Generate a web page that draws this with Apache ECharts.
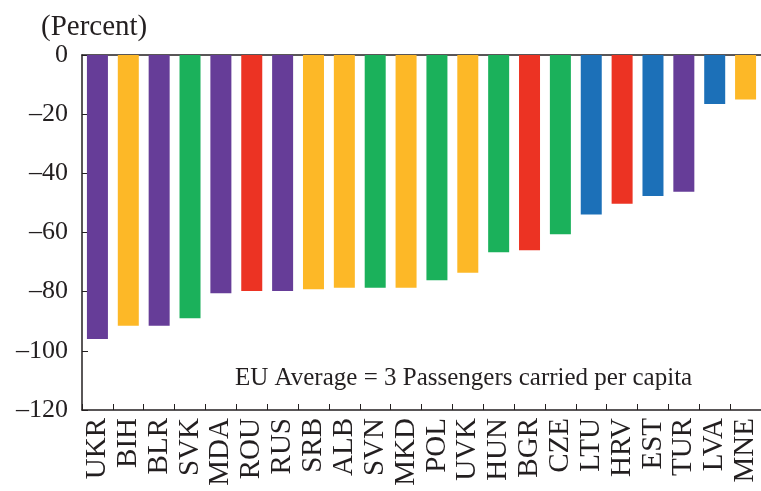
<!DOCTYPE html>
<html>
<head>
<meta charset="utf-8">
<script src="https://cdn.jsdelivr.net/npm/echarts@6/dist/echarts.min.js"></script>
<style>
html,body{margin:0;padding:0;background:#fff;}
#chart{width:761px;height:491px;}
</style>
</head>
<body>
<div id="chart"></div>
<script>
const categories = ['UKR','BIH','BLR','SVK','MDA','ROU','RUS','SRB','ALB','SVN','MKD','POL','UVK','HUN','BGR','CZE','LTU','HRV','EST','TUR','LVA','MNE'];
const values = [-96, -91.5, -91.5, -89, -80.5, -79.8, -79.8, -79.2, -78.7, -78.7, -78.7, -76.1, -73.6, -66.7, -66, -60.6, -53.9, -50.3, -47.7, -46.2, -16.6, -15];
const groups = ['purple','yellow','purple','green','purple','red','purple','yellow','yellow','green','yellow','green','yellow','green','red','green','blue','red','blue','purple','blue','yellow'];
const yTicks = [-120, -100, -80, -60, -40, -20, 0];
const palette = {purple:'#663d98', yellow:'#fdb827', green:'#1bb15b', red:'#ec3323', blue:'#1c70b8'};
const FONT = 'Liberation Serif';

const chart = echarts.init(document.getElementById('chart'), null, {renderer:'canvas'});
chart.setOption({
  backgroundColor:'#fff',
  animation:false,
  grid:{left:82, top:55, width:684, height:355, containLabel:false},
  xAxis:[{
    type:'category', data:categories, position:'bottom',
    axisLine:{show:true, onZero:false, lineStyle:{color:'#231f20', width:1.5}},
    axisTick:{show:true, inside:true, length:6, alignWithLabel:false, lineStyle:{color:'#231f20'}},
    axisLabel:{rotate:90, fontFamily:FONT, fontSize:29, color:'#231f20', margin:8, interval:0},
    splitLine:{show:false}
  },{
    type:'category', data:categories, position:'top',
    axisLine:{show:true, onZero:false, lineStyle:{color:'#231f20', width:1.5}},
    axisTick:{show:false}, axisLabel:{show:false}
  }],
  yAxis:{
    type:'value', min:yTicks[0], max:yTicks[yTicks.length-1], interval:20,
    axisLine:{show:true, lineStyle:{color:'#231f20', width:1.5}},
    axisTick:{show:true, inside:true, length:6, lineStyle:{color:'#231f20'}},
    splitLine:{show:false},
    axisLabel:{fontFamily:FONT, fontSize:26, color:'#231f20', margin:14,
      formatter:v => v < 0 ? '\u2013' + Math.abs(v) : String(v)}
  },
  series:[{
    type:'bar', barWidth:21,
    data: values.map((v,i)=>({value:v, itemStyle:{color:palette[groups[i]]}}))
  }],
  graphic:[
    {type:'text', left:41, top:13, style:{text:'(Percent)', font:'29px "Liberation Serif"', fill:'#231f20'}},
    {type:'text', left:235, top:366, style:{text:'EU Average = 3 Passengers carried per capita', font:'25px "Liberation Serif"', fill:'#231f20'}}
  ]
});
</script>
</body>
</html>
